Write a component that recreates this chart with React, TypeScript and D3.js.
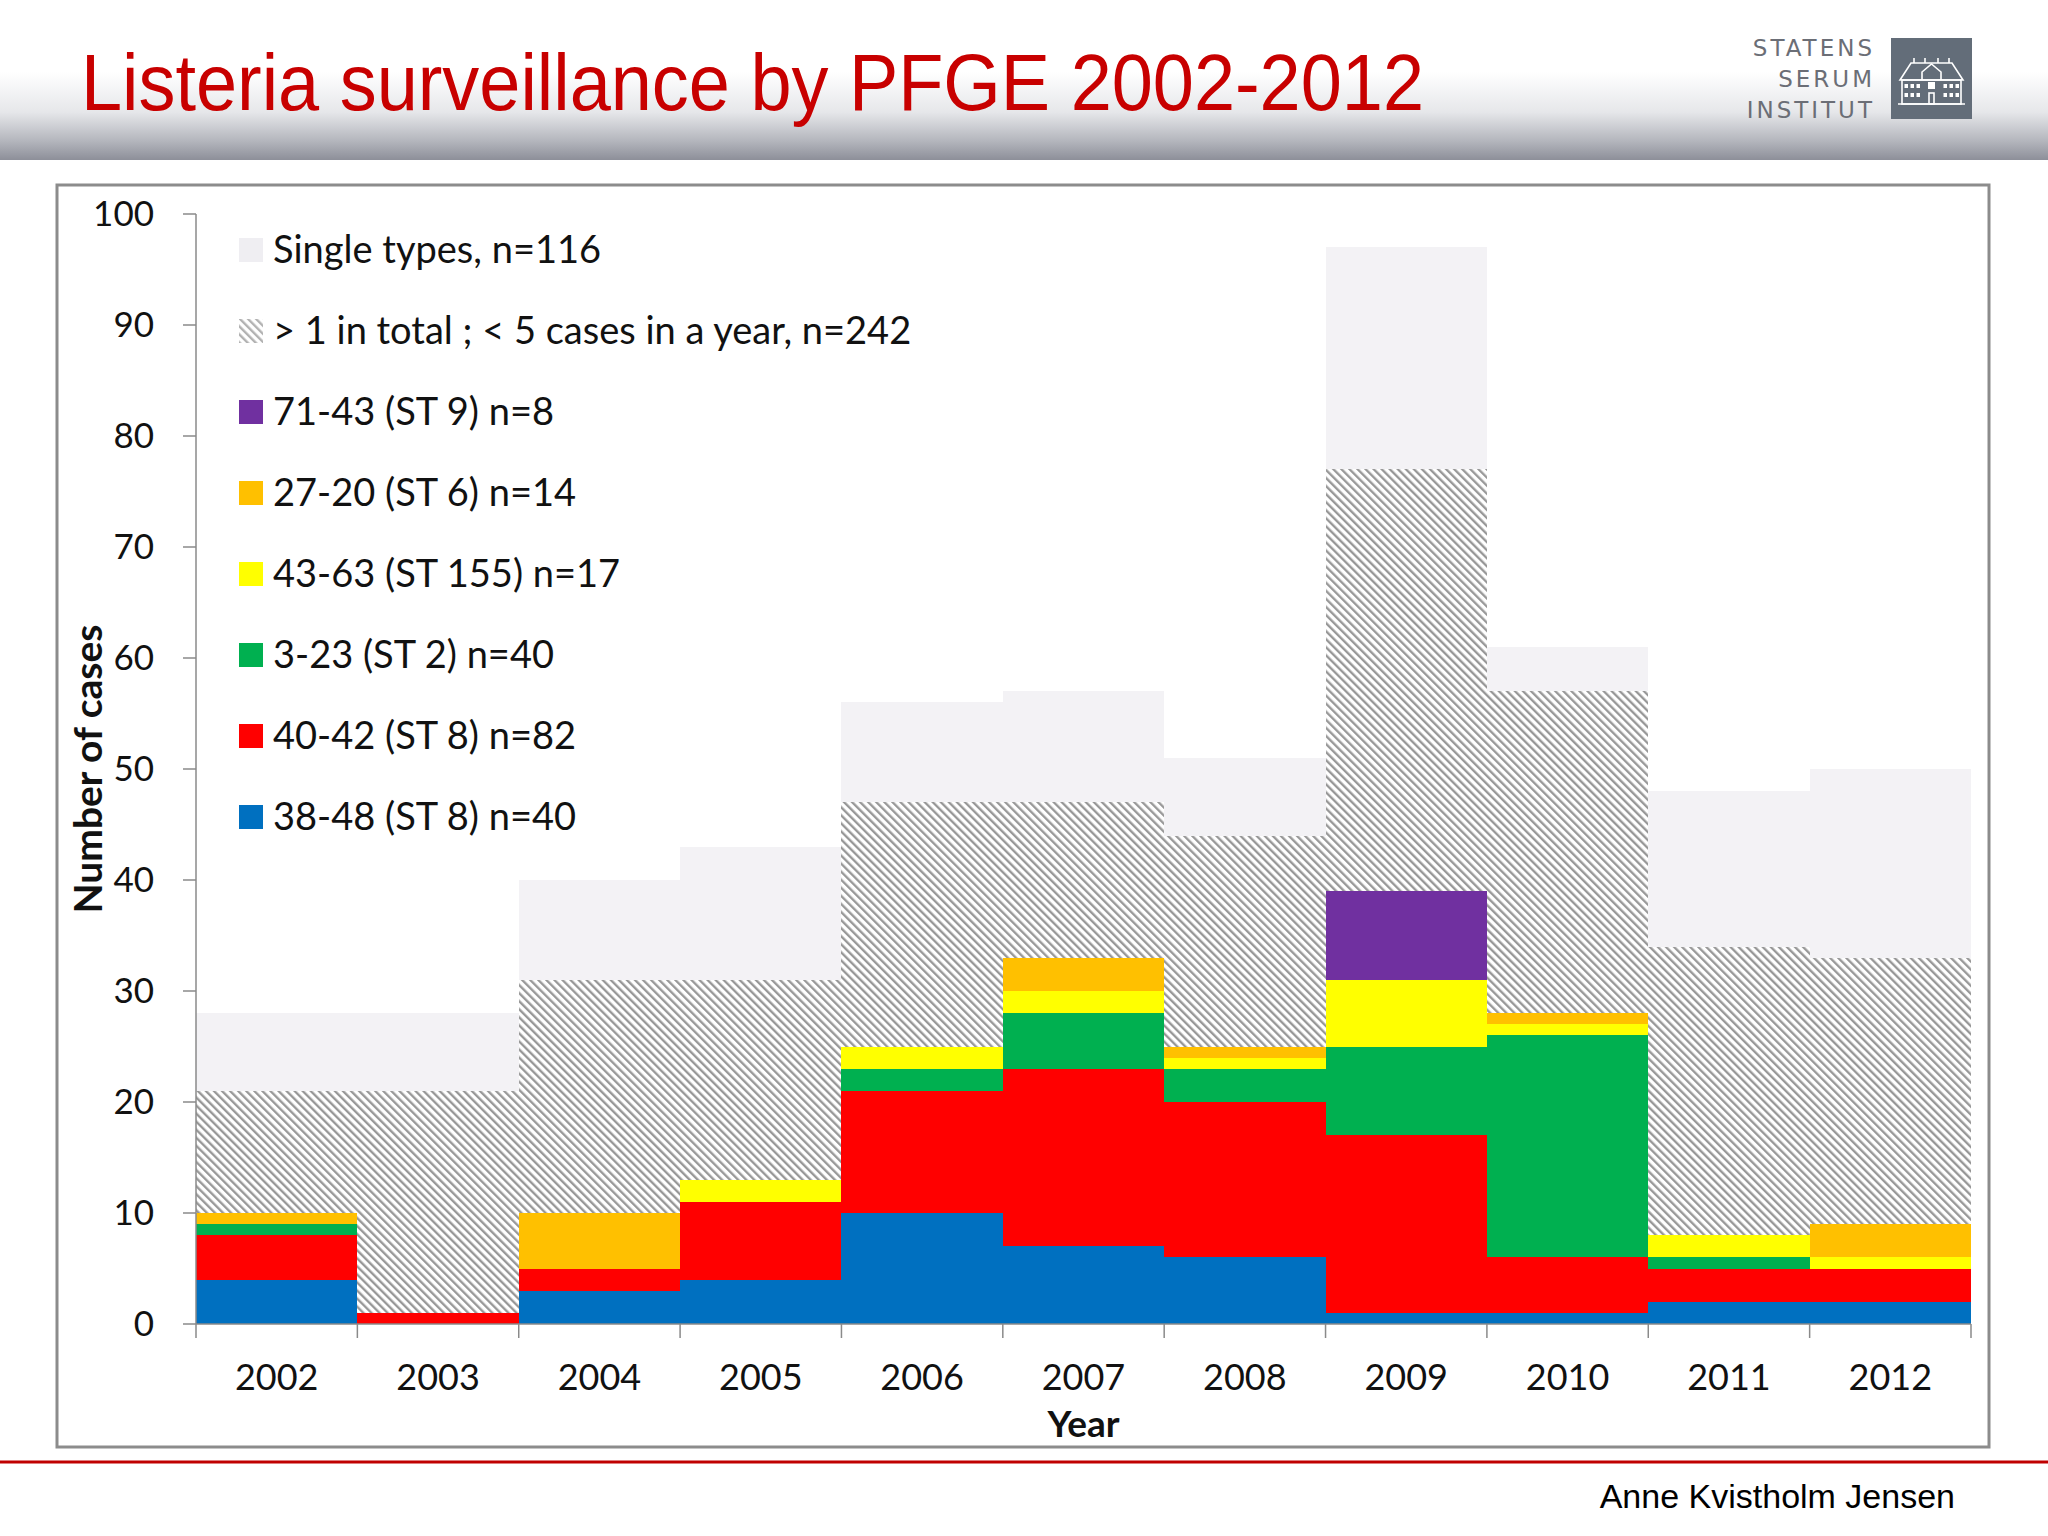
import React from "react";
import * as d3 from "d3";

const years = ["2002", "2003", "2004", "2005", "2006", "2007", "2008", "2009", "2010", "2011", "2012"];
const st8_3848 = [4, 0, 3, 4, 10, 7, 6, 1, 1, 2, 2];
const st8_4042 = [4, 1, 2, 7, 11, 16, 14, 16, 5, 3, 3];
const st2_323 = [1, 0, 0, 0, 2, 5, 3, 8, 20, 1, 0];
const st155_4363 = [0, 0, 0, 2, 2, 2, 1, 6, 1, 2, 1];
const st6_2720 = [1, 0, 5, 0, 0, 3, 1, 0, 1, 0, 3];
const st9_7143 = [0, 0, 0, 0, 0, 0, 0, 8, 0, 0, 0];
const smallClusters = [11, 20, 21, 18, 22, 14, 19, 38, 29, 26, 24];
const singleTypes = [7, 7, 9, 12, 9, 10, 7, 20, 4, 14, 17];
const yTicks = [0, 10, 20, 30, 40, 50, 60, 70, 80, 90, 100];

const seriesKeys = ["b", "r", "g", "y", "o", "p", "h", "s"];
const seriesValues: Record<string, number[]> = {
  b: st8_3848, r: st8_4042, g: st2_323, y: st155_4363, o: st6_2720, p: st9_7143, h: smallClusters, s: singleTypes,
};
const seriesFill: Record<string, string> = {
  b: "#0070C0", r: "#FF0000", g: "#00B050", y: "#FFFF00", o: "#FFC000", p: "#7030A0", h: "url(#hatch)", s: "#F3F2F5",
};
const legendItems = [
  { key: "s", label: "Single types, n=116" },
  { key: "h", label: "> 1 in total ; < 5 cases in a year, n=242" },
  { key: "p", label: "71-43 (ST 9) n=8" },
  { key: "o", label: "27-20 (ST 6) n=14" },
  { key: "y", label: "43-63 (ST 155) n=17" },
  { key: "g", label: "3-23 (ST 2) n=40" },
  { key: "r", label: "40-42 (ST 8) n=82" },
  { key: "b", label: "38-48 (ST 8) n=40" },
];

const FONT = "Lato, 'Open Sans', sans-serif";

export default function App() {
  const left = 196, right = 1971, top = 214, bottom = 1324;
  const x = d3.scaleBand<string>().domain(years).range([left, right]).paddingInner(0).paddingOuter(0);
  const y = d3.scaleLinear().domain([0, 100]).range([bottom, top]);
  const rows = years.map((yr, i) => {
    const o: any = { year: yr };
    seriesKeys.forEach((k) => (o[k] = seriesValues[k][i]));
    return o;
  });
  const stacked = d3.stack<any>().keys(seriesKeys)(rows);
  const bw = x.bandwidth();

  return (
    <svg width={2048} height={1536} style={{ position: "absolute", left: 0, top: 0, display: "block", background: "#fff" }}>
      <defs>
        <linearGradient id="hdr" x1="0" y1="0" x2="0" y2="1">
          <stop offset="0" stopColor="#ffffff" />
          <stop offset="0.45" stopColor="#ffffff" />
          <stop offset="0.7" stopColor="#e6e7ea" />
          <stop offset="0.88" stopColor="#b4b6bd" />
          <stop offset="1" stopColor="#8d8f99" />
        </linearGradient>
        <pattern id="hatch" patternUnits="userSpaceOnUse" width={5.7} height={5.7} patternTransform="rotate(-45)">
          <rect width={5.7} height={5.7} fill="#ffffff" />
          <line x1={1.2} y1={0} x2={1.2} y2={5.7} stroke="#959595" strokeWidth={2.3} />
        </pattern>
      </defs>

      {/* header */}
      <rect x={0} y={0} width={2048} height={160} fill="url(#hdr)" />
      <text x={81} y={110} fontFamily="'Liberation Sans', Arial, sans-serif" fontSize={80} fill="#C80000" textLength={1343} lengthAdjust="spacingAndGlyphs">
        Listeria surveillance by PFGE 2002-2012
      </text>
      {/* logo */}
      <g fontFamily="'DejaVu Sans', sans-serif" fontSize={23} fill="#6b6e76" textAnchor="end" letterSpacing={3}>
        <text x={1875} y={56}>STATENS</text>
        <text x={1875} y={87}>SERUM</text>
        <text x={1875} y={118}>INSTITUT</text>
      </g>
      <rect x={1891} y={38} width={81} height={81} fill="#636d79" />
      <g stroke="#ffffff" strokeWidth={1.6} fill="none">
        <path d="M1900,80 L1911,63 L1952,63 L1963,80 Z" />
        <rect x={1902} y={80} width={59} height={24} />
        <path d="M1922,80 L1922,72 L1931.5,64 L1941,72 L1941,80" />
        <line x1={1898} y1={104} x2={1965} y2={104} />
        <line x1={1914} y1={63} x2={1914} y2={58} />
        <line x1={1925} y1={63} x2={1925} y2={58} />
        <line x1={1938} y1={63} x2={1938} y2={58} />
        <line x1={1949} y1={63} x2={1949} y2={58} />
        <rect x={1929} y={93} width={5} height={11} />
      </g>
      <g fill="#ffffff">
        {[1906, 1912, 1918, 1945, 1951, 1957].map((wx) => (
          <React.Fragment key={wx}>
            <rect x={wx - 1.5} y={84} width={3.5} height={4} />
            <rect x={wx - 1.5} y={93} width={3.5} height={4} />
          </React.Fragment>
        ))}
        <rect x={1928} y={82} width={7} height={7} />
      </g>

      {/* chart frame */}
      <rect x={57} y={185} width={1932} height={1262} fill="#ffffff" stroke="#8c8c8c" strokeWidth={3} />

      {/* bars */}
      {stacked.map((layer) => (
        <g key={layer.key}>
          {layer.map((d, i) =>
            d[1] - d[0] > 0 ? (
              <rect
                key={i}
                x={x(years[i])!}
                y={y(d[1])}
                width={bw}
                height={y(d[0]) - y(d[1])}
                fill={seriesFill[layer.key]}
                shapeRendering="crispEdges"
              />
            ) : null
          )}
        </g>
      ))}

      {/* y axis */}
      <g stroke="#8a8a8a" strokeWidth={1.5}>
        <line x1={left} y1={top} x2={left} y2={bottom} />
        {yTicks.map((t) => (
          <line key={t} x1={left - 13} y1={y(t)} x2={left} y2={y(t)} />
        ))}
      </g>
      <g fontFamily={FONT} fontSize={35} fill="#111" textAnchor="end">
        {yTicks.map((t) => (
          <text key={t} x={154} y={y(t) + 12}>{t}</text>
        ))}
      </g>
      <text
        transform={`translate(102,${(top + bottom) / 2}) rotate(-90)`}
        textAnchor="middle"
        fontFamily={FONT}
        fontWeight="bold"
        fontSize={39}
        fill="#111"
      >
        Number of cases
      </text>

      {/* x axis */}
      <g stroke="#8a8a8a" strokeWidth={1.5}>
        <line x1={left} y1={bottom} x2={right} y2={bottom} />
        {years.map((yr) => (
          <line key={yr} x1={x(yr)!} y1={bottom} x2={x(yr)!} y2={bottom + 14} />
        ))}
        <line x1={right} y1={bottom} x2={right} y2={bottom + 14} />
      </g>
      <g fontFamily={FONT} fontSize={36} fill="#111" textAnchor="middle">
        {years.map((yr) => (
          <text key={yr} x={x(yr)! + bw / 2} y={1390}>{yr}</text>
        ))}
      </g>
      <text x={(left + right) / 2} y={1437} textAnchor="middle" fontFamily={FONT} fontWeight="bold" fontSize={37} fill="#111">
        Year
      </text>

      {/* legend */}
      {legendItems.map((it, i) => {
        const cy = 250 + i * 81;
        return (
          <g key={it.key}>
            <rect x={239} y={cy - 12} width={24} height={24} fill={it.key === "s" ? "#EFEEF2" : seriesFill[it.key]} opacity={it.key === "h" ? 0.75 : 1} />
            <text x={273} y={cy + 13} fontFamily={FONT} fontSize={38} fill="#111">{it.label}</text>
          </g>
        );
      })}

      {/* footer */}
      <line x1={0} y1={1462} x2={2048} y2={1462} stroke="#C00000" strokeWidth={3} />
      <text x={1955} y={1508} textAnchor="end" fontFamily="'Liberation Sans', Arial, sans-serif" fontSize={34} fill="#000">
        Anne Kvistholm Jensen
      </text>
    </svg>
  );
}
